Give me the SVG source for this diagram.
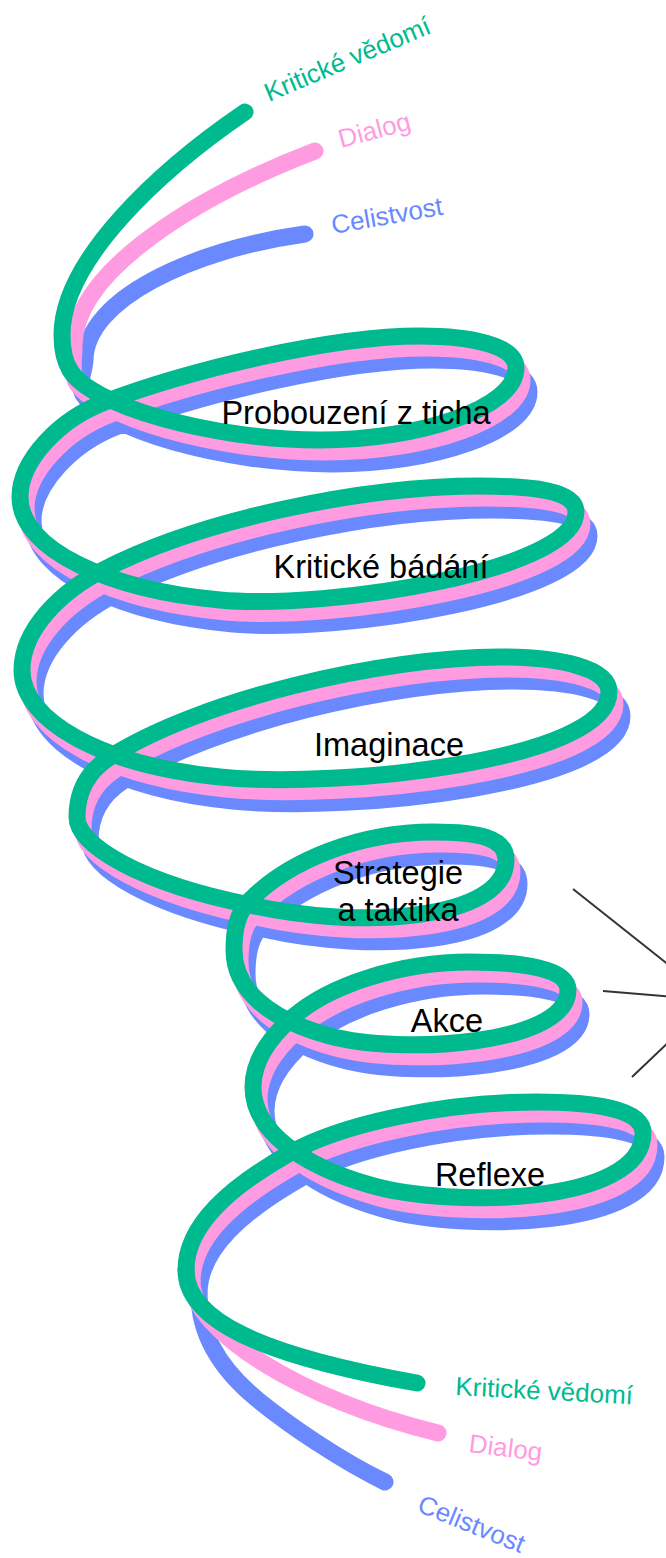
<svg xmlns="http://www.w3.org/2000/svg" xmlns:xlink="http://www.w3.org/1999/xlink" width="666" height="1558" viewBox="0 0 666 1558">
<style>
.rib{fill:none;stroke-width:17;stroke-linecap:round;stroke-linejoin:round}
.g{stroke:#00BA8F}
.p{stroke:#FF9BE1}
.b{stroke:#6A89FF}
.lbl{font-family:"Liberation Sans",Arial,sans-serif;font-size:32.5px;fill:#000;text-anchor:middle}
.tag{font-family:"Liberation Sans",Arial,sans-serif;font-size:26px}
.tg{fill:#00BA8F}.tp{fill:#FF9BE1}.tb{fill:#6A89FF}
.ln{stroke:#333;stroke-width:2;fill:none}
</style>
<defs>
<path id="core" d="M70,370 C90,405 210,440 320,440 C420,440 516,408 516,368 C516,345 470,336 420,336 C330,336 190,370 105,402 C60,419 20,460 20,497 C20,550 110,590 220,600 C330,610 576,570 576,512 C576,490 530,486 480,486 C360,486 200,520 103,570 C60,592 22,630 22,670 C22,720 100,765 220,777 C340,789 609,760 609,692 C609,668 560,657 500,657 C380,657 200,700 110,757 C85,773 77,795 77,817 C77,845 140,883 250,905 C360,930 506,920 506,860 C506,838 480,832 433,832 C360,832 290,860 250,900 C237,913 234,930 234,950 C234,990 270,1020 330,1036 C400,1055 568,1045 568,990 C568,968 520,962 470,962 C400,962 330,985 293,1017 C270,1037 253,1060 253,1087 C253,1130 300,1165 370,1185 C450,1208 643,1205 643,1133 C643,1108 590,1102 537,1102 C440,1102 340,1125 290,1153 C230,1187 186,1225 186,1270"/>
</defs>
<g id="spiral">
<g id="strand-celistvost">
<path class="rib b" d="M305,234 C190,250 86,300 85,360 C84,375 77,384 83,394"/>
<use xlink:href="#core" href="#core" class="rib b" transform="translate(13,24)"/>
<path class="rib b" d="M199,1294 C199,1330 215,1365 258,1400 C290,1426 340,1460 385,1482"/>
</g>
<g id="strand-dialog">
<path class="rib p" d="M315,151 C200,195 75,270 74,345 C74,362 71,372 76,382"/>
<use xlink:href="#core" href="#core" class="rib p" transform="translate(6,12)"/>
<path class="rib p" d="M192,1282 C192,1330 300,1400 438,1433"/>
</g>
<g id="strand-kriticke-vedomi">
<path class="rib g" d="M245,112 C160,170 62,260 62,335 C62,350 65,362 70,370"/>
<use xlink:href="#core" href="#core" class="rib g"/>
<path class="rib g" d="M186,1270 C186,1320 260,1355 417,1383"/>
</g>
</g>
<g id="connectors">
<line class="ln" x1="573" y1="889" x2="713" y2="1000"/>
<line class="ln" x1="603" y1="991" x2="713" y2="1000"/>
<line class="ln" x1="632" y1="1077" x2="713" y2="1000"/>
</g>
<g id="stage-probouzeni"><text class="lbl" x="356" y="424">Probouzení z ticha</text></g>
<g id="stage-badani"><text class="lbl" x="381" y="578">Kritické bádání</text></g>
<g id="stage-imaginace"><text class="lbl" x="389" y="756">Imaginace</text></g>
<g id="stage-strategie"><text class="lbl" x="398" y="884">Strategie</text><text class="lbl" x="398" y="921">a taktika</text></g>
<g id="stage-akce"><text class="lbl" x="447" y="1032">Akce</text></g>
<g id="stage-reflexe"><text class="lbl" x="490" y="1186">Reflexe</text></g>
<g id="labels-top">
<text class="tag tg" transform="translate(269,102) rotate(-23)">Kritické vědomí</text>
<text class="tag tp" transform="translate(341,148) rotate(-15)">Dialog</text>
<text class="tag tb" transform="translate(333,234) rotate(-10)">Celistvost</text>
</g>
<g id="labels-bottom">
<text class="tag tg" transform="translate(455,1395) rotate(3)">Kritické vědomí</text>
<text class="tag tp" transform="translate(468,1452) rotate(7)">Dialog</text>
<text class="tag tb" transform="translate(416,1511) rotate(22)">Celistvost</text>
</g>
</svg>
